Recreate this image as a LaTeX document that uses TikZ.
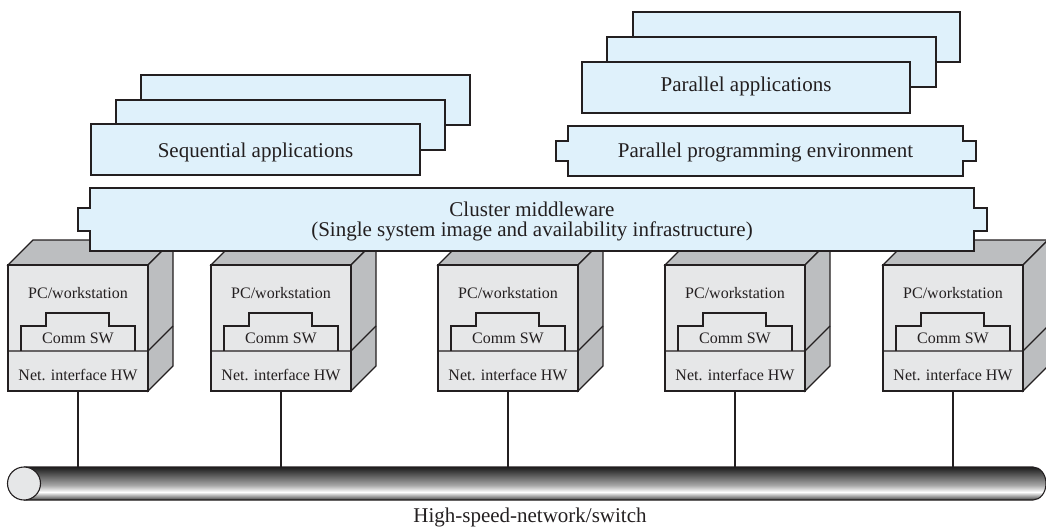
\documentclass[tikz,border=0pt]{standalone}
\usepackage{fontspec}
\setmainfont{Liberation Serif}
\definecolor{appblue}{HTML}{DFF1FB}
\definecolor{facegray}{HTML}{E6E7E8}
\definecolor{sidegray}{HTML}{BCBEC0}
\definecolor{ink}{HTML}{231F20}
\newcommand\pcunit[2]{%
\begin{scope}[shift={(#1,0)}]
\path[outl, fill=sidegray] (0,265) -- (25,240) -- (165,240) -- (140,265) -- cycle;
\path[outl, fill=sidegray] (140,265) -- (165,240) -- (165,366) -- (140,391) -- cycle;
\path[outl, fill=facegray] (0,265) rectangle (140,391);
\draw[outl] (0,351) -- (140,351) -- (165,326);
\draw[outl] (13,351) -- (13,326) -- (38,326) -- (38,313) -- (101,313) -- (101,326) -- (127,326) -- (127,351);
\node[smalltxt] (pc#2) at (70,298) {PC/workstation};
\node[smalltxt] (sw#2) at (70,343) {Comm SW};
\node[smalltxt] (ni#2) at (70,380) {Net. interface HW};
\coordinate (port#2) at (70,391);
\end{scope}}
\begin{document}
\begin{tikzpicture}[x=1pt,y=-1pt, line join=miter,
  outl/.style={draw=ink, line width=1.1pt},
  appbox/.style={outl, fill=appblue},
  bigtxt/.style={font=\fontsize{21}{25}\selectfont, text=ink, anchor=base, inner sep=0pt},
  smalltxt/.style={font=\fontsize{16}{19}\selectfont, text=ink, anchor=base, inner sep=0pt},
  wire/.style={draw=ink, line width=2.4pt}]
\useasboundingbox (0,0) rectangle (1046,527);

% sequential applications stack
\path[appbox] (141,75) rectangle (470,125);
\path[appbox] (116,100) rectangle (445,150);
\path[appbox] (91,124) rectangle (420,175);
\node[bigtxt] (seq) at (255.5,157) {Sequential applications};

% parallel applications stack
\path[appbox] (633,12) rectangle (960,62);
\path[appbox] (607,37) rectangle (936,87);
\path[appbox] (582,62) rectangle (910,113);
\node[bigtxt] (par) at (746,92) {Parallel applications};

% parallel programming environment
\path[appbox] (568,126) -- (963,126) -- (963,141) -- (976,141) -- (976,161) -- (963,161) -- (963,176)
  -- (568,176) -- (568,161) -- (556,161) -- (556,141) -- (568,141) -- cycle;
\node[bigtxt] (ppe) at (765.5,157) {Parallel programming environment};

% computers
\pcunit{8}{1}
\pcunit{211}{2}
\pcunit{438}{3}
\pcunit{665}{4}
\pcunit{883}{5}

% cluster middleware
\path[appbox] (90,188) -- (974,188) -- (974,208) -- (987,208) -- (987,231) -- (974,231) -- (974,251)
  -- (90,251) -- (90,231) -- (78,231) -- (78,208) -- (90,208) -- cycle;
\node[bigtxt] (cm1) at (532,216) {Cluster middleware};
\node[bigtxt] (cm2) at (532,236) {(Single system image and availability infrastructure)};

% wires
\coordinate (cabletop) at (0,467);
\foreach \i in {1,...,5} {\draw[wire] (port\i) -- (port\i |- cabletop);}

% cable
\begin{scope}
\clip (24,467) -- (1033,467) .. controls (1040.2,467) and (1046,474.4) .. (1046,483.5)
  .. controls (1046,492.6) and (1040.2,500) .. (1033,500) -- (24,500) -- cycle;
\shade[top color=black!92, bottom color=black!35] (0,466) rectangle (1050,485);
\shade[top color=black!35, bottom color=white] (0,485) rectangle (1050,492);
\shade[top color=white, bottom color=black!45] (0,492) rectangle (1050,497);
\shade[top color=black!45, bottom color=black!85] (0,497) rectangle (1050,501);
\end{scope}
\draw[outl] (24,467) -- (1033,467) .. controls (1040.2,467) and (1046,474.4) .. (1046,483.5)
  .. controls (1046,492.6) and (1040.2,500) .. (1033,500) -- (24,500);
\path[outl, fill=facegray] (24,483.5) circle[radius=16.5];
\node[bigtxt] (net) at (530,522) {High-speed-network/switch};
\end{tikzpicture}
\end{document}
